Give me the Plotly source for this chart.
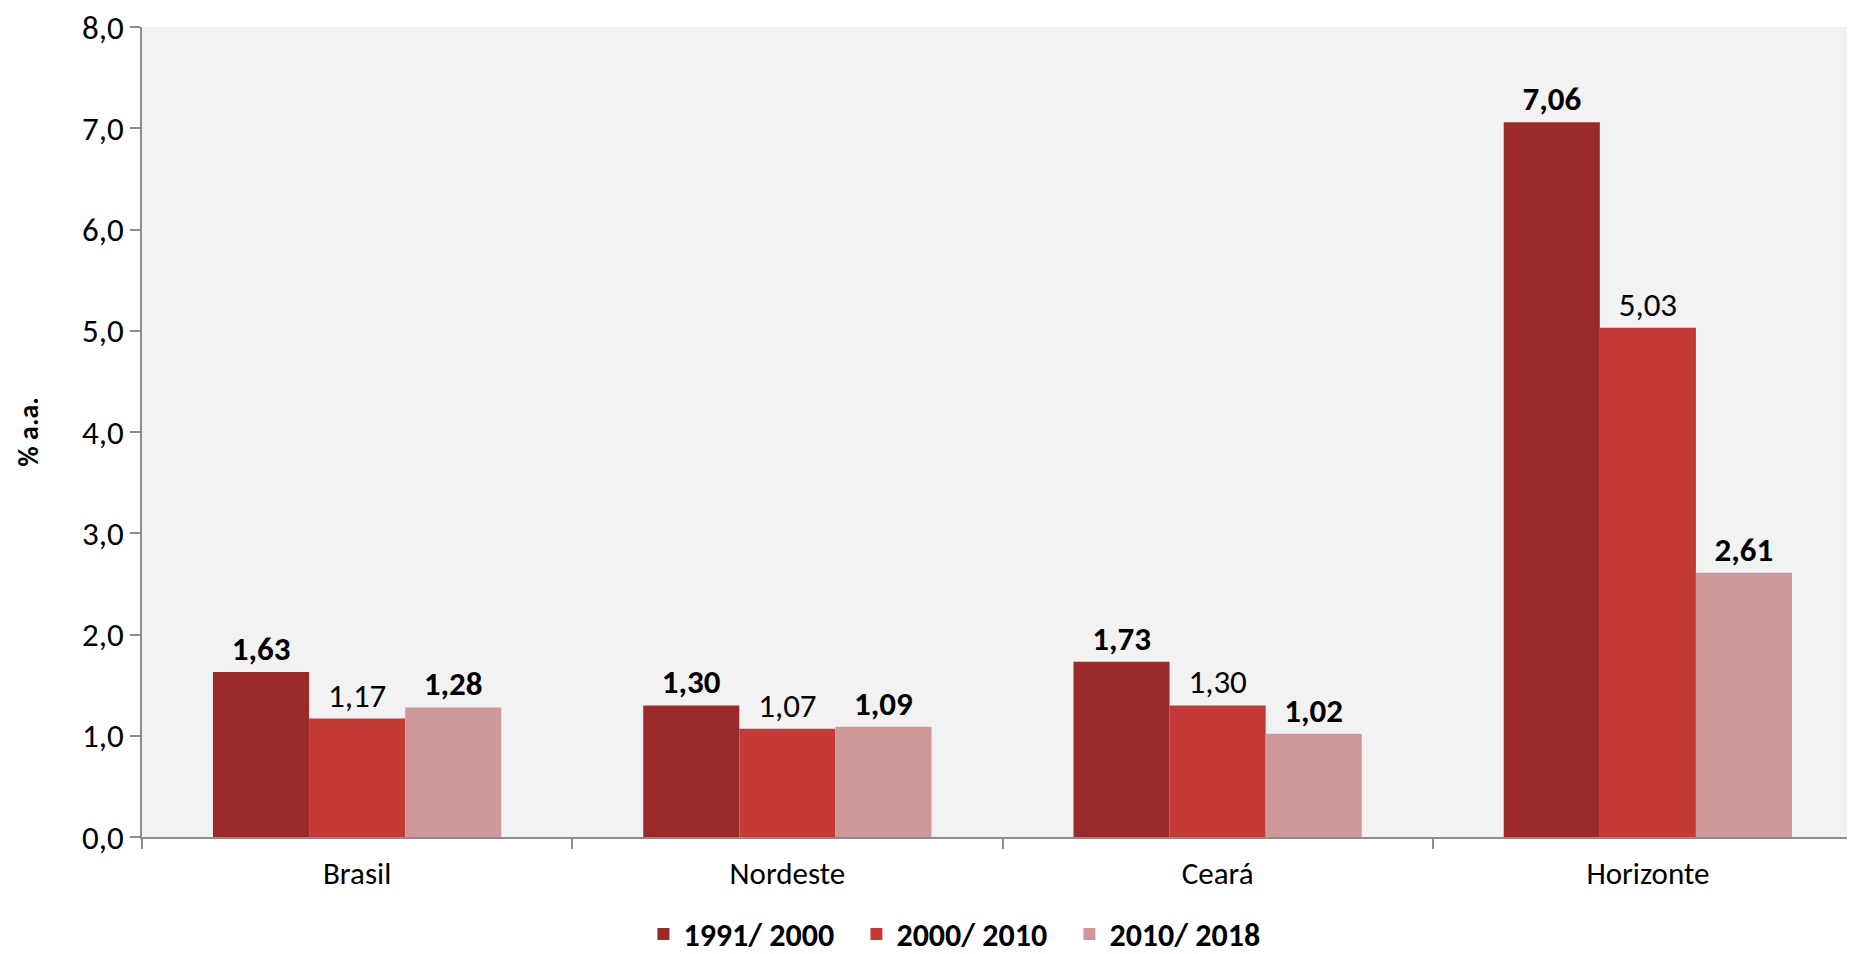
import plotly.graph_objects as go

categories = ["Brasil", "Nordeste", "Ceará", "Horizonte"]
series_names = ["1991/ 2000", "2000/ 2010", "2010/ 2018"]
v_1991_2000 = [1.63, 1.30, 1.73, 7.06]
v_2000_2010 = [1.17, 1.07, 1.30, 5.03]
v_2010_2018 = [1.28, 1.09, 1.02, 2.61]
y_ticks = [0, 1, 2, 3, 4, 5, 6, 7, 8]

FONT = "Carlito, Lato, Liberation Sans, sans-serif"
colors = ["#9B2B2B", "#C33A39", "#CF9898"]
bold = [True, False, True]
values = [v_1991_2000, v_2000_2010, v_2010_2018]

fig = go.Figure()
for name, vals, col, b in zip(series_names, values, colors, bold):
    fig.add_trace(go.Bar(
        x=categories, y=vals, name=name,
        marker=dict(color=col, line=dict(width=0)),
        texttemplate=("<b>%{y:.2f}</b>" if b else "%{y:.2f}"),
        textposition="outside",
        textfont=dict(family=FONT, size=33, color="#000000"),
        cliponaxis=False,
    ))

fig.update_layout(
    width=1855, height=954,
    barmode="group", bargap=0.33, bargroupgap=0,
    separators=",.",
    paper_bgcolor="#FFFFFF", plot_bgcolor="#F2F2F2",
    margin=dict(l=134, r=0, t=19, b=116),
    font=dict(family=FONT, size=31, color="#000000"),
    showlegend=True,
    legend=dict(
        orientation="h", x=0.477, xanchor="center", y=-0.12, yanchor="middle",
        font=dict(family=FONT, size=32, color="#000000", weight="bold"),
        bgcolor="rgba(0,0,0,0)", itemwidth=30, traceorder="normal",
        entrywidth=168, entrywidthmode="pixels",
    ),
    xaxis=dict(
        showline=True, linecolor="#8C8C8C", linewidth=1.5,
        ticks="outside", ticklen=10, tickcolor="#8C8C8C", tickwidth=1.5,
        tickson="boundaries", showgrid=False,
        tickfont=dict(family=FONT, size=31), ticklabelstandoff=8,
    ),
    yaxis=dict(
        range=[0, 8], tickvals=y_ticks, tickformat=".1f",
        showline=True, linecolor="#8C8C8C", linewidth=1.5,
        ticks="outside", ticklen=10, tickcolor="#8C8C8C", tickwidth=1.5,
        showgrid=False, zeroline=False, ticklabeloverflow="allow",
        tickfont=dict(family=FONT, size=33),
        title=dict(text="<b>% a.a.</b>", font=dict(family=FONT, size=28), standoff=35),
    ),
)

fig.write_html("out.html")
